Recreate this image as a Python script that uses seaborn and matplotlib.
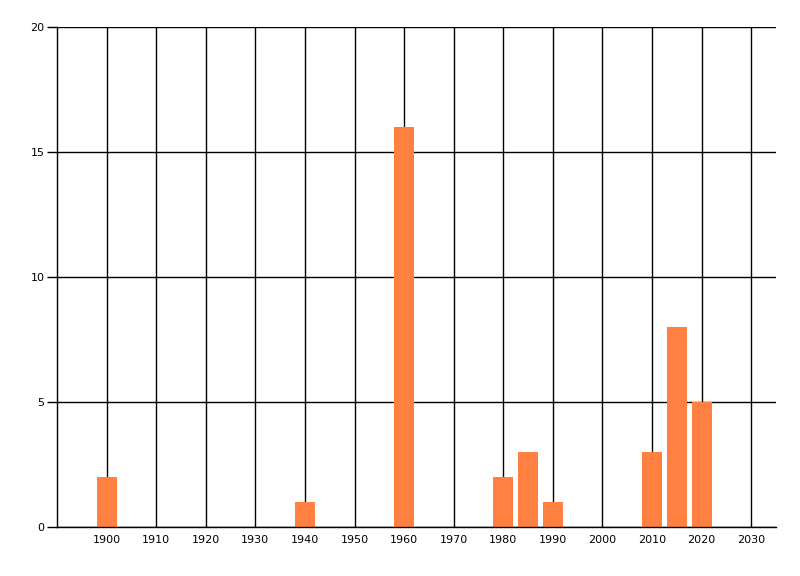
import matplotlib
matplotlib.use("Agg")
import matplotlib.pyplot as plt
import seaborn as sns
import pandas as pd

# data
years = [1900, 1940, 1960, 1980, 1985, 1990, 2010, 2015, 2020]
counts = [2, 1, 16, 2, 3, 1, 3, 8, 5]
x_ticks = list(range(1900, 2031, 10))
y_ticks = [0, 5, 10, 15, 20]

df = pd.DataFrame({"year": years, "count": counts})

sns.set_style("white")
plt.rcParams['font.family'] = ['DejaVu Sans']

fig = plt.figure(figsize=(8, 5.76), dpi=100)
ax = fig.add_axes([0.07125, 0.0851, 0.89875, 0.8681])

sns.barplot(data=df, x="year", y="count", native_scale=True, width=0.8,
            color="#FF8040", saturation=1, linewidth=0, ax=ax)

ax.set_xlim(1890, 2035)
ax.set_ylim(0, 20)
ax.set_xticks(x_ticks)
ax.set_yticks(y_ticks)
ax.set_xticklabels([str(t) for t in x_ticks])
ax.set_yticklabels([str(t) for t in y_ticks])
ax.set_axisbelow(True)
ax.grid(True, color="black", linewidth=1)

for side in ["top", "right"]:
    ax.spines[side].set_visible(False)
for side in ["left", "bottom"]:
    ax.spines[side].set_color("black")
    ax.spines[side].set_linewidth(1)

ax.tick_params(axis="y", length=7, width=1, color="black", labelcolor="black",
               labelsize=8, pad=2, left=True)
ax.tick_params(axis="x", length=0, labelcolor="black", labelsize=8, pad=6)
ax.set_xlabel("")
ax.set_ylabel("")

fig.savefig("out.png", dpi=100)
